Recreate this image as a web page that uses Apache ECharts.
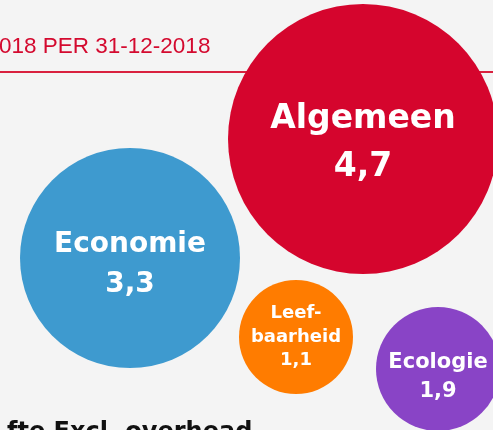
<!DOCTYPE html>
<html>
<head>
<meta charset="utf-8">
<script src="https://cdn.jsdelivr.net/npm/echarts@6/dist/echarts.min.js"></script>
<style>
html,body{margin:0;padding:0;background:#f4f4f4;}
#c{width:493px;height:430px;}
</style>
</head>
<body>
<div id="c"></div>
<script>
// Data
var categories = ['Algemeen', 'Economie', 'Leef-\nbaarheid', 'Ecologie'];
var fteValues = [4.7, 3.3, 1.1, 1.9];
var headerText = '018 PER 31-12-2018';
var footerText = 'fte Excl. overhead';

// Layout / style (not data)
var centers = [[363, 139], [130, 258], [296, 337], [438, 369]];
var diameters = [270, 220, 114, 124];
var colors = ['#d5052d', '#3e9acf', '#ff7c00', '#8944c6'];
var nameSizes = [33, 28, 18, 21];
var lineHeights = [48, 40, 23.5, 29];
var labelOffsets = [[0, 4], [0, 7], [0, 0], [0, 8]];
var FONT = '"DejaVu Sans"';

function fmt(v){ return String(v).replace('.', ','); }

var data = categories.map(function(c, i){
  var nameLines = c.split('\n').map(function(s){ return '{n|' + s + '}'; }).join('\n');
  return {
    name: c,
    value: [centers[i][0], centers[i][1], fteValues[i]],
    symbolSize: diameters[i],
    itemStyle: { color: colors[i], opacity: 1 },
    label: {
      show: true,
      position: 'inside',
      offset: labelOffsets[i],
      formatter: nameLines + '\n{n|' + fmt(fteValues[i]) + '}',
      rich: {
        n: { fontSize: nameSizes[i], fontWeight: 'bold', color: '#fff', lineHeight: lineHeights[i], fontFamily: FONT }
      }
    }
  };
});

var chart = echarts.init(document.getElementById('c'));
chart.setOption({
  backgroundColor: '#f4f4f4',
  animation: false,
  grid: { left: 0, right: 0, top: 0, bottom: 0 },
  xAxis: { type: 'value', min: 0, max: 493, show: false },
  yAxis: { type: 'value', min: 0, max: 430, inverse: true, show: false },
  graphic: [
    { type: 'rect', z: 0, shape: { x: 0, y: 71, width: 493, height: 2 }, style: { fill: '#d9213f' } },
    { type: 'text', z: 1, left: -1, top: 35, style: { text: headerText, fill: '#d40a2f', font: '22.5px "Liberation Sans"' } },
    { type: 'text', z: 1, left: 7, top: 421, style: { text: footerText, fill: '#111', font: 'bold 24px "DejaVu Sans"' } }
  ],
  series: [{
    type: 'scatter',
    symbol: 'circle',
    z: 5,
    data: data,
    emphasis: { disabled: true }
  }]
});
</script>
</body>
</html>
